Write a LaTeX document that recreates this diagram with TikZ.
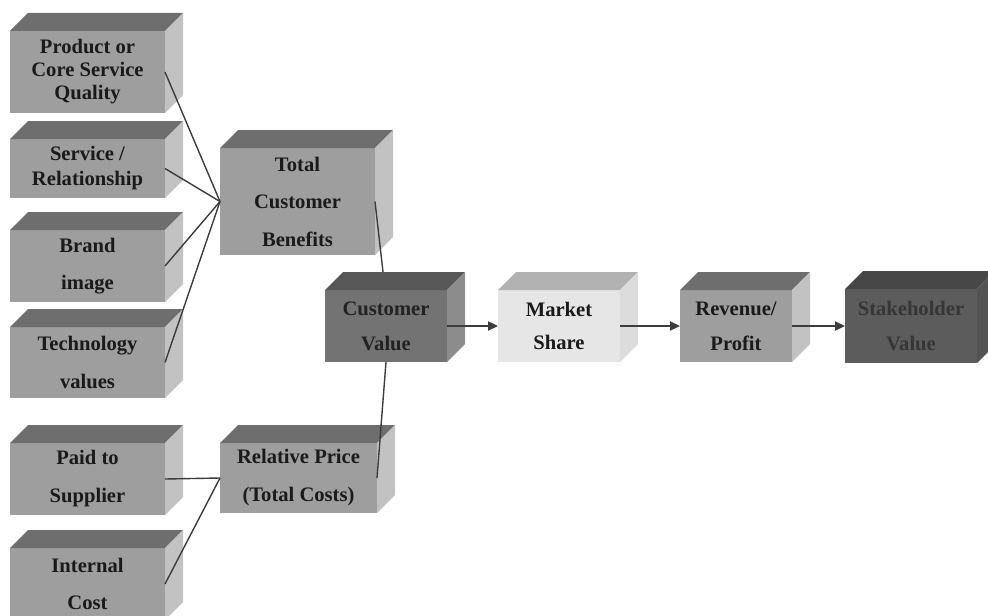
\documentclass[tikz,border=0pt]{standalone}
\usepackage{fontspec}
\setmainfont{Liberation Serif}
\usetikzlibrary{arrows.meta}

% colour sets: F = front face, T = top face, S = side face, X = lettering
\definecolor{midF}{HTML}{9E9E9E}\definecolor{midT}{HTML}{6E6E6E}\definecolor{midS}{HTML}{C2C2C2}\definecolor{midX}{HTML}{1A1A1A}
\definecolor{cvF}{HTML}{737373}\definecolor{cvT}{HTML}{575757}\definecolor{cvS}{HTML}{8C8C8C}\definecolor{cvX}{HTML}{222222}
\definecolor{msF}{HTML}{E6E6E6}\definecolor{msT}{HTML}{B2B2B2}\definecolor{msS}{HTML}{DCDCDC}\definecolor{msX}{HTML}{1A1A1A}
\definecolor{shF}{HTML}{5C5C5C}\definecolor{shT}{HTML}{474747}\definecolor{shS}{HTML}{535353}\definecolor{shX}{HTML}{363636}
\definecolor{wire}{HTML}{3C3C3C}

\tikzset{
  facebox/.style={rectangle, inner sep=0pt, outer sep=0pt, anchor=north west, align=center},
  conn/.style={draw=wire, line width=0.7pt},
  arr/.style={conn, -{Triangle[length=5pt,width=4.6pt]}},
}

% #1 name, #2 x, #3 y (top of front face), #4 width, #5 height,
% #6 colour set, #7 line spacing (pt), #8 label
\newcommand\cuboid[8]{%
  \node[facebox, fill=#6F, text=#6X, minimum width=#4*0.5pt, minimum height=#5*0.5pt,
        font=\fontsize{10.3}{#7}\selectfont\bfseries] (#1) at (#2,#3) {#8};
  \fill[#6T] (#1.north west) -- ++(18,-18) -- ([shift={(18,-18)}]#1.north east) -- (#1.north east) -- cycle;
  \fill[#6S] (#1.north east) -- ++(18,-18) -- ([shift={(18,-18)}]#1.south east) -- (#1.south east) -- cycle;
}

\begin{document}
\begin{tikzpicture}[x=0.5pt, y=-0.5pt]
\useasboundingbox (0,0) rectangle (988,615);

% benefit drivers
\cuboid{prod}{10}{31}{155}{82}{mid}{11.5}{Product or\\Core Service\\Quality}
\cuboid{serv}{10}{139}{155}{59}{mid}{12.5}{Service /\\Relationship}
\cuboid{brand}{10}{230}{155}{72}{mid}{18.5}{Brand\\image}
\cuboid{tech}{10}{327}{155}{71}{mid}{19}{Technology\\values}

% cost drivers
\cuboid{paid}{10}{443}{155}{72}{mid}{19}{Paid to\\Supplier}
\cuboid{intc}{10}{548}{155}{72}{mid}{18.5}{Internal\\Cost}

% aggregates
\cuboid{tcb}{220}{148}{155}{107}{mid}{18.75}{Total\\Customer\\Benefits}
\cuboid{rp}{220}{443}{157}{70}{mid}{19}{Relative Price\\(Total Costs)}

% value chain
\cuboid{cv}{325}{290}{122}{72}{cv}{17.5}{Customer\\Value}
\cuboid{ms}{498}{290}{122}{72}{ms}{16.5}{Market\\Share}
\cuboid{rev}{680}{290}{112}{72}{mid}{17.5}{Revenue/\\Profit}
\cuboid{sh}{845}{289}{132}{74}{sh}{17.5}{Stakeholder\\Value}

% connectors
\draw[conn] (prod.east) -- (tcb.west);
\draw[conn] (serv.east) -- (tcb.west);
\draw[conn] (brand.east) -- (tcb.west);
\draw[conn] (tech.east) -- (tcb.west);
\draw[conn] (paid.east) -- (rp.west);
\draw[conn] (intc.east) -- (rp.west);
\draw[conn] (tcb.east) -- ([shift={(-3,-18)}]cv.north);
\draw[conn] (cv.south) -- (rp.east);

\draw[arr] (cv.east) -- (ms.west);
\draw[arr] (ms.east) -- (rev.west);
\draw[arr] (rev.east) -- (sh.west);
\end{tikzpicture}
\end{document}
